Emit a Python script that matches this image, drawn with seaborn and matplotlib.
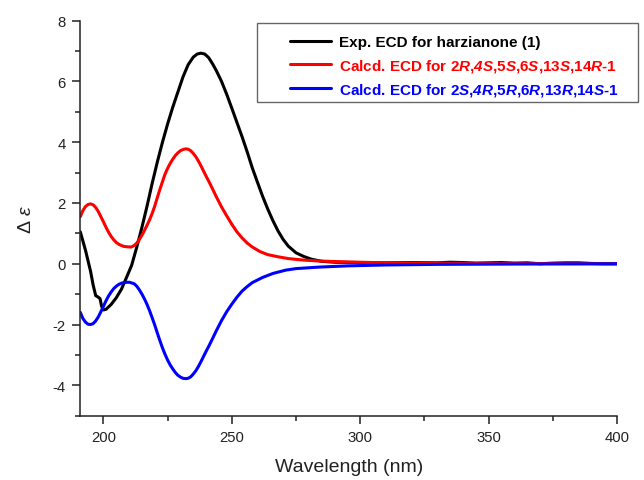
import pandas as pd
import matplotlib
matplotlib.use("Agg")
import matplotlib.pyplot as plt
from matplotlib.patches import Rectangle
from matplotlib.ticker import MultipleLocator
import seaborn as sns

# experimental ECD (black)
exp_wl = [191, 192, 193, 194, 195, 196, 197, 198, 198.7, 199.3, 200, 201, 202, 203, 205, 207,
          209, 211, 213, 215, 217, 219, 221, 223, 225, 227, 229, 231, 233, 235, 236.5, 238,
          239.5, 241, 242.5, 244, 246, 248, 250, 252, 254, 256, 258, 260, 262, 264, 266, 268, 270,
          272, 275, 278, 281, 285, 290, 300, 310, 320, 330, 335, 340, 345, 350, 355, 360,
          365, 370, 375, 380, 385, 390, 395, 400]
exp_de = [1.05, 0.75, 0.45, 0.1, -0.25, -0.7, -1.05, -1.1, -1.15, -1.4, -1.52, -1.5, -1.42, -1.34, -1.12, -0.84,
          -0.45, -0.05, 0.55, 1.2, 1.9, 2.65, 3.35, 4.0, 4.6, 5.15, 5.65, 6.15, 6.55, 6.8, 6.9, 6.93,
          6.9, 6.78, 6.58, 6.35, 6.0, 5.58, 5.12, 4.65, 4.18, 3.68, 3.15, 2.68, 2.22, 1.8, 1.42, 1.08, 0.8,
          0.58, 0.36, 0.24, 0.15, 0.08, 0.05, 0.04, 0.03, 0.04, 0.03, 0.05, 0.04, 0.02, 0.03, 0.04, 0.02,
          0.03, 0.0, 0.02, 0.03, 0.03, 0.01, 0.0, 0.0]

# calculated ECD 2R,4S,5S,6S,13S,14R (red)
red_wl = [191, 192, 193, 194, 195, 196, 197, 198, 199, 200, 201, 202, 203, 204, 205, 206, 207, 208, 209, 210.8,
          212, 213, 214, 215, 216, 217, 218, 219, 220, 221, 222, 223, 224, 225, 226, 227, 228, 229, 230, 231,
          232, 233, 234, 235, 236, 237, 238, 239, 240, 241, 242, 244, 246, 248, 250, 252,
          254, 256, 258, 261, 264, 268, 272, 278, 284, 295, 310, 330, 360, 400]
red_de = [1.55, 1.75, 1.88, 1.95, 1.97, 1.94, 1.85, 1.72, 1.55, 1.38, 1.2, 1.04, 0.9, 0.79, 0.7, 0.64, 0.6, 0.57, 0.56, 0.55,
          0.6, 0.68, 0.8, 0.94, 1.1, 1.27, 1.45, 1.66, 1.9, 2.18, 2.45, 2.7, 2.95, 3.14, 3.3, 3.44, 3.56, 3.65, 3.72, 3.76,
          3.78, 3.77, 3.72, 3.63, 3.52, 3.38, 3.22, 3.05, 2.88, 2.72, 2.55, 2.2, 1.87, 1.58, 1.3, 1.05,
          0.85, 0.68, 0.55, 0.4, 0.3, 0.23, 0.17, 0.12, 0.09, 0.06, 0.03, 0.02, 0.01, 0.0]

# calculated ECD 2S,4R,5R,6R,13R,14S (blue)
blue_wl = [191, 192, 193, 194, 195, 196, 197, 198, 199, 200, 201, 202, 203, 204, 205, 206, 207, 208, 209, 210.2,
           212, 213, 214, 215, 216, 217, 218, 219, 220, 221, 222, 223, 224, 225, 226, 227, 228, 229, 230, 231,
           232, 233, 234, 235, 236, 237, 238, 239, 240, 241, 242, 244, 246, 248, 250, 252,
           254, 256, 258, 262, 266, 271, 275, 284, 295, 310, 330, 360, 400]
blue_de = [-1.6, -1.8, -1.92, -1.99, -2.0, -1.97, -1.88, -1.75, -1.58, -1.4, -1.22, -1.06, -0.93, -0.82, -0.74, -0.68, -0.64, -0.62, -0.61, -0.61,
           -0.66, -0.74, -0.86, -1.0, -1.16, -1.34, -1.55, -1.78, -2.02, -2.28, -2.53, -2.77, -2.98, -3.17, -3.33, -3.46, -3.58, -3.67, -3.73, -3.77,
           -3.78, -3.77, -3.72, -3.63, -3.52, -3.38, -3.22, -3.05, -2.88, -2.72, -2.55, -2.2, -1.87, -1.58, -1.33, -1.1,
           -0.9, -0.75, -0.62, -0.45, -0.32, -0.21, -0.16, -0.11, -0.07, -0.04, -0.02, -0.01, 0.0]

labels = ["Exp. ECD for harzianone (1)",
          r"Calcd. ECD for 2$\mathbfit{R}$,$\mathbfit{4S}$,5$\mathbfit{S}$,6$\mathbfit{S}$,13$\mathbfit{S}$,14$\mathbfit{R}$-1",
          r"Calcd. ECD for 2$\mathbfit{S}$,$\mathbfit{4R}$,5$\mathbfit{R}$,6$\mathbfit{R}$,13$\mathbfit{R}$,14$\mathbfit{S}$-1"]
colors = ["black", "#ff0000", "#0000ff"]

sns.set_style("ticks")
plt.rcParams["font.family"] = ["Liberation Sans", "DejaVu Sans"]
plt.rcParams["axes.unicode_minus"] = False
plt.rcParams["mathtext.fontset"] = "custom"
plt.rcParams["mathtext.rm"] = "Liberation Sans"
plt.rcParams["mathtext.it"] = "Liberation Sans:italic"
plt.rcParams["mathtext.bf"] = "Liberation Sans:bold"
plt.rcParams["mathtext.bfit"] = "Liberation Sans:italic:bold"

df = pd.concat([
    pd.DataFrame({"wl": exp_wl, "de": exp_de, "curve": labels[0]}),
    pd.DataFrame({"wl": red_wl, "de": red_de, "curve": labels[1]}),
    pd.DataFrame({"wl": blue_wl, "de": blue_de, "curve": labels[2]}),
])

fig = plt.figure(figsize=(6.44, 4.81), dpi=100)
ax = fig.add_axes([0.1247, 0.1337, 0.958 - 0.1247, 0.955 - 0.1337])

for lab, c in zip(labels, colors):
    sns.lineplot(data=df[df["curve"] == lab], x="wl", y="de", color=c, lw=2.2,
                 label=lab, ax=ax, estimator=None, sort=False)

ax.set_xlim(191, 400)
ax.set_ylim(-5, 8)
ax.xaxis.set_major_locator(MultipleLocator(50))
ax.xaxis.set_minor_locator(MultipleLocator(25))
ax.yaxis.set_major_locator(MultipleLocator(2))
ax.yaxis.set_minor_locator(MultipleLocator(1))
ax.tick_params(which="major", direction="out", length=6, width=1.1, pad=4.5,
               labelsize=10.7, colors="#222222")
ax.tick_params(which="minor", direction="out", length=3.5, width=1.1, colors="#222222")
for s in ["top", "right"]:
    ax.spines[s].set_visible(False)
for s in ["left", "bottom"]:
    ax.spines[s].set_linewidth(1.1)
    ax.spines[s].set_color("#222222")

ax.set_xlabel("Wavelength (nm)", fontsize=14, labelpad=10, color="#222222")
ax.set_ylabel(r"$\Delta\ \mathit{\varepsilon}$", fontsize=14, labelpad=13, color="#222222")

# legend box
fig.patches.append(Rectangle((257 / 644, 1 - 103 / 481), 381 / 644, 79 / 481,
                             transform=fig.transFigure, fill=False, edgecolor="#666666", lw=1.0))
leg = ax.legend(loc="upper left", bbox_to_anchor=(290 / 644, 1 - 36 / 481),
                bbox_transform=fig.transFigure, frameon=False, borderpad=0, borderaxespad=0,
                handlelength=2.7, handletextpad=0.5, labelspacing=0.5,
                prop={"weight": "bold", "size": 11})
for t, c in zip(leg.get_texts(), colors):
    t.set_color(c)

fig.savefig("out.png", dpi=100)
